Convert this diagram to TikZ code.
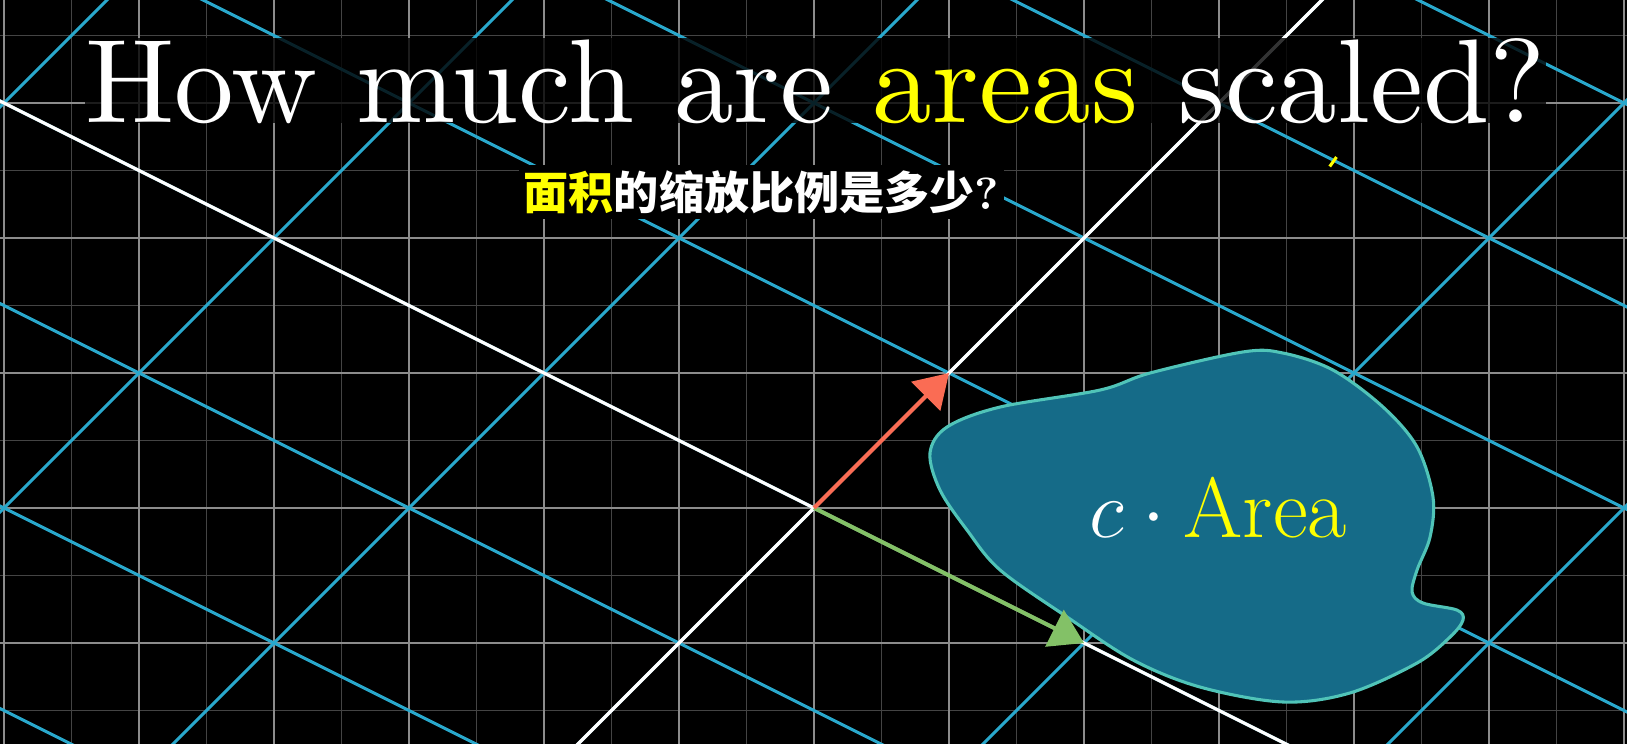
\documentclass[tikz,border=0pt]{standalone}
\usepackage{fontspec}
\usetikzlibrary{arrows.meta}
\newfontfamily\cjk{Noto Sans CJK SC}
\newfontfamily\titlefont{lmroman10-regular.otf}
\definecolor{ayellow}{RGB}{255,255,0}
\definecolor{tblue}{RGB}{41,168,204}
\definecolor{vgreen}{RGB}{131,193,103}
\definecolor{vred}{RGB}{250,108,84}
\definecolor{blobfill}{RGB}{21,107,136}
\definecolor{blobedge}{RGB}{80,196,184}
\definecolor{majorgray}{RGB}{140,140,140}
\definecolor{minorgray}{RGB}{68,68,68}

\begin{document}
\begin{tikzpicture}[
  minorln/.style={draw=minorgray, line width=0.3pt},
  majorln/.style={draw=majorgray, line width=0.42pt},
  tgrid/.style={draw=tblue, line width=0.63pt},
  axisln/.style={draw=white, line width=0.7pt},
  vec/.style={line width=0.85pt, -{Triangle[length=0.245cm,width=0.3cm]}},
  title/.style={font=\titlefont\fontsize{25.1}{30}\selectfont, text=white, fill=black, fill opacity=0.8, text opacity=1, inner sep=0pt, anchor=base},
  subtitle/.style={font=\fontsize{9.5}{11}\selectfont\cjk\bfseries, text=white, fill=black, inner xsep=1pt, inner ysep=0pt, minimum height=0.4cm},
  areatext/.style={font=\fontsize{18}{21}\selectfont, text=white, anchor=base},
]
\useasboundingbox[fill=black] (-6.03,-1.748) rectangle (6.022,3.763);
\clip (-6.03,-1.748) rectangle (6.022,3.763);
\draw[minorln] (-6.5,-2) grid[step=0.5] (6.5,4);
\draw[majorln] (-7,-2) grid[step=1] (7,4);
\foreach \n in {-4,...,5} \draw[tgrid] ({\n-12},{\n+6}) -- ({\n+12},{\n-6});
\foreach \m in {-4,...,3} \draw[tgrid] ({2*\m-8},{-\m-8}) -- ({2*\m+8},{-\m+8});
\draw[axisln] (-12,6) -- (12,-6);
\draw[axisln] (-8,-8) -- (8,8);
\filldraw[fill=blobfill, draw=blobedge, line width=0.65pt] plot[smooth cycle, tension=0.55] coordinates {
  (0.859,0.407) (0.985,0.600) (1.378,0.748) (2.119,0.874) (2.489,1.000)
  (3.178,1.156) (3.474,1.148) (3.844,1.022) (4.215,0.748) (4.467,0.452)
  (4.585,0.081) (4.563,-0.215) (4.467,-0.459) (4.430,-0.622) (4.511,-0.704)
  (4.763,-0.756) (4.807,-0.830) (4.711,-0.956) (4.467,-1.148) (3.970,-1.370)
  (3.474,-1.437) (2.859,-1.326) (2.363,-1.126) (1.874,-0.807) (1.378,-0.459)
  (1.133,-0.163) (0.933,0.133)};
\coordinate (O) at (0,0);
\coordinate (ihat) at (2,-1);
\coordinate (jhat) at (1,1);
\draw[vec, vgreen] (O) -- (ihat);
\draw[vec, vred] (O) -- (jhat);
\draw[ayellow, line width=0.65pt] (3.82,2.53) -- (3.87,2.60);
\node[areatext] (area) at (2.996,-0.215) {$c\cdot\textcolor{ayellow}{\mathrm{Area}}$};
\node[title] (ttl) at (0.012,2.859) {How much are \textcolor{ayellow}{areas} scaled?};
\node[subtitle] (sub) at (-0.39,2.341) {\textcolor{ayellow}{面积}的缩放比例是多少{\rmfamily ?}};
\end{tikzpicture}
\end{document}
